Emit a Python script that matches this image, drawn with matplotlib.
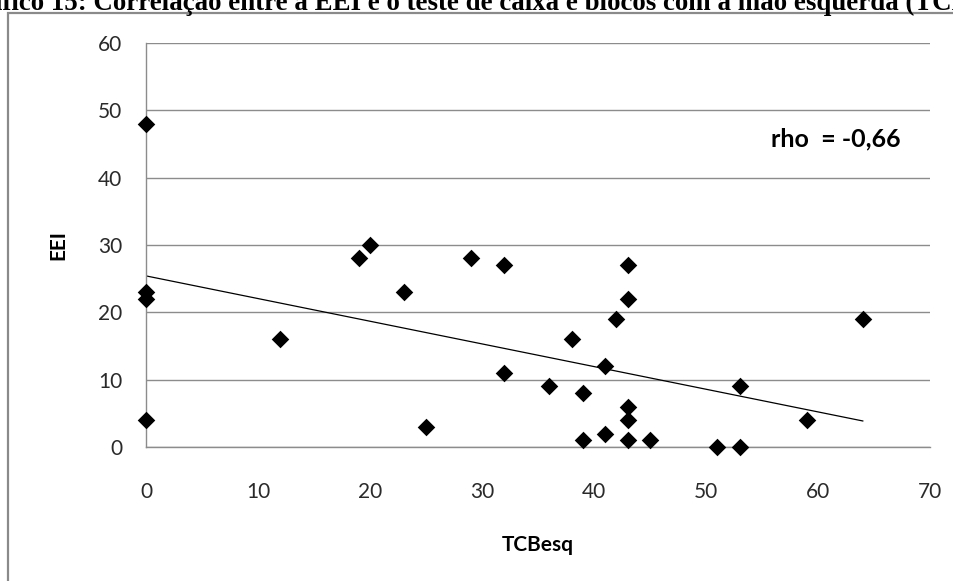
import numpy as np
import matplotlib
matplotlib.use('Agg')
import matplotlib.pyplot as plt
from matplotlib.patches import Rectangle

# dados (TCBesq x EEI)
tcb_esq = [0, 0, 0, 0, 12, 19, 20, 23, 25, 29, 32, 32, 36, 38, 39, 39, 41, 41,
           42, 43, 43, 43, 43, 43, 45, 51, 53, 53, 59, 64]
eei = [48, 23, 22, 4, 16, 28, 30, 23, 3, 28, 27, 11, 9, 16, 8, 1, 12, 2,
       19, 27, 22, 6, 4, 1, 1, 0, 9, 0, 4, 19]
x_ticks = [0, 10, 20, 30, 40, 50, 60, 70]
y_ticks = [0, 10, 20, 30, 40, 50, 60]
titulo = 'Gráfico 15: Correlação entre a EEI e o teste de caixa e blocos com a mão esquerda (TCBesq)'
rho_txt = 'rho  = -0,66'

plt.rcParams['font.family'] = ['Lato', 'DejaVu Sans']

fig = plt.figure(figsize=(9.54, 5.81), dpi=100)
W, H = 954, 581
ax = fig.add_axes([146 / W, 1 - 447 / H, (930 - 146) / W, (447 - 43) / H])

# moldura externa (cortada a direita e embaixo)
fig.patches.append(Rectangle((8.5 / W, -0.1), 1.2, 1 - 13 / H + 0.1,
                             transform=fig.transFigure, fill=False,
                             edgecolor='#8a8a8a', linewidth=1.6))

# titulo cortado nas bordas, como na imagem original
fig.text(-44 / W, 1 - 10 / H, titulo, ha='left', va='baseline',
         family='Liberation Serif', fontweight='bold', fontsize=19.4)

ax.scatter(tcb_esq, eei, marker='D', s=80, color='black', zorder=3,
           linewidths=0, clip_on=False)

# linha de tendencia
coef = np.polyfit(tcb_esq, eei, 1)
xs = np.array([min(tcb_esq), max(tcb_esq)])
ax.plot(xs, np.polyval(coef, xs), color='black', linewidth=0.9, zorder=2)

ax.set_xlim(0, 70)
ax.set_ylim(0, 60)
ax.set_xticks(x_ticks)
ax.set_yticks(y_ticks)
ax.tick_params(length=0, labelsize=15, labelcolor='#2a2a2a')
ax.tick_params(axis='x', pad=25)
ax.tick_params(axis='y', pad=17)
ax.grid(axis='y', color='#8c8c8c', linewidth=1)
ax.set_axisbelow(True)
for s in ['top', 'right']:
    ax.spines[s].set_visible(False)
for s in ['left', 'bottom']:
    ax.spines[s].set_color('#8c8c8c')
    ax.spines[s].set_linewidth(1)

ax.set_xlabel('TCBesq', fontweight='bold', fontsize=15)
ax.set_ylabel('EEI', fontweight='bold', fontsize=15)
ax.xaxis.set_label_coords(0.5, (447 - 545) / 404)
ax.xaxis.label.set_va('center')
ax.yaxis.set_label_coords((58 - 146) / 784, 0.5)
ax.yaxis.label.set_va('center')

ax.text(55.8, 45.8, rho_txt, ha='left', va='center', fontweight='bold', fontsize=18)

fig.savefig('out.png', dpi=100)
